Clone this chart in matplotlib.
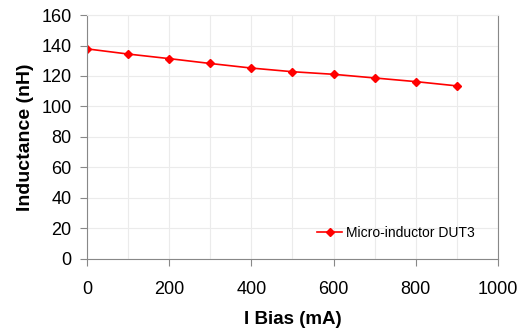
import matplotlib
matplotlib.use("Agg")
import matplotlib.pyplot as plt

plt.rcParams['font.family'] = ['Liberation Sans', 'DejaVu Sans']

bias_ma = [0, 100, 200, 300, 400, 500, 600, 700, 800, 900]
inductance_nh = [137.8, 134.4, 131.4, 128.2, 125.2, 122.8, 121.1, 118.7, 116.3, 113.5]

fig = plt.figure(figsize=(5.27, 3.34), dpi=100)
ax = fig.add_axes([0.165, 0.225, 0.78, 0.73])

ax.plot(bias_ma, inductance_nh, color='red', lw=1.2, marker='D', ms=3.8,
        label='Micro-inductor DUT3')

ax.set_xlim(0, 1000)
ax.set_ylim(0, 160)
ax.set_xticks(range(0, 1001, 200))
ax.set_xticks(range(0, 1001, 100), minor=True)
ax.set_yticks(range(0, 161, 20))
ax.grid(True, which='both', color='#ebebeb', lw=0.8)
ax.set_axisbelow(True)
for s in ax.spines.values():
    s.set_color('#888888')
ax.spines['top'].set_color('#ebebeb')
ax.tick_params(axis='both', which='major', labelsize=13, colors='#888888',
               labelcolor='black', length=5, direction='out')
ax.tick_params(axis='x', which='minor', length=0)
ax.tick_params(axis='x', pad=11)
ax.tick_params(axis='y', pad=6)

ax.set_xlabel('I Bias (mA)', fontsize=13.5, fontweight='bold', labelpad=9)
ax.set_ylabel('Inductance (nH)', fontsize=14, fontweight='bold', labelpad=5)

ax.legend(loc='center right', bbox_to_anchor=(0.944, 0.107), frameon=False,
          fontsize=10, handlelength=1.8, handletextpad=0.3,
          borderpad=0, borderaxespad=0)

fig.savefig('out.png', dpi=100)
